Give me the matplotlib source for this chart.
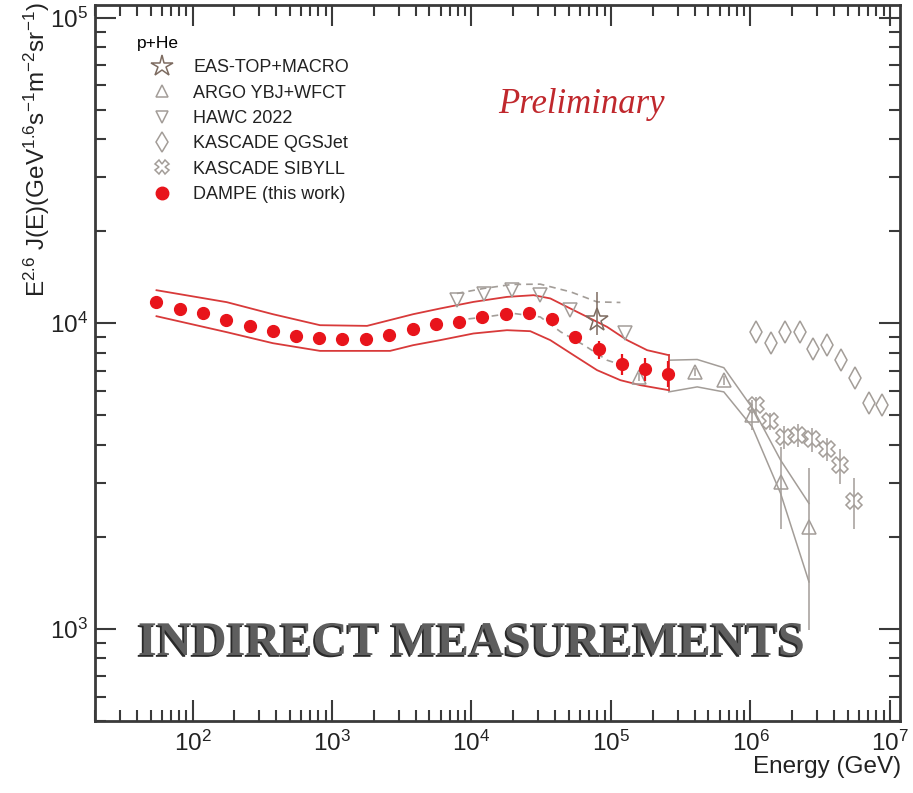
import matplotlib
matplotlib.use('Agg')
import matplotlib.pyplot as plt
import matplotlib.patheffects as pe
from matplotlib.lines import Line2D

plt.rcParams['font.family'] = ['Liberation Sans', 'DejaVu Sans']
plt.rcParams['mathtext.fontset'] = 'custom'
plt.rcParams['mathtext.rm'] = 'Liberation Sans'
plt.rcParams['mathtext.it'] = 'Liberation Sans:italic'
plt.rcParams['mathtext.bf'] = 'Liberation Sans:bold'

# ---------------- data ----------------
dampe_E = [55, 81, 119, 175, 257, 377, 555, 807, 1188, 1746, 2566, 3777, 5550,
           8160, 11940, 17660, 25830, 37950, 55500, 82200, 119600, 176700, 258300]
dampe_F = [11690, 11110, 10760, 10230, 9780, 9415, 9066, 8910, 8863, 8863, 9115, 9558,
           9902, 10114, 10462, 10726, 10807, 10283, 8979, 8203, 7340, 7070, 6844]
dampe_err = [80, 80, 80, 80, 80, 80, 80, 80, 80, 80, 80, 90, 100, 110, 130, 160,
             200, 280, 420, 560, 590, 620, 680]

dampe_band_up_E = [55.2, 176.3, 377.2, 820, 1783, 3815, 5962, 10330, 17960, 27870,
                   36730, 48400, 67350, 93760, 130500, 181600, 259600]
dampe_band_up_F = [12820, 11715, 10700, 9850, 9799, 10700, 11170, 11740, 12190, 12350,
                   12050, 11310, 10490, 9725, 8800, 8160, 7858]
dampe_band_lo_E = [55.2, 176.3, 377.2, 820, 2609, 3815, 5962, 10330, 17960, 26390,
                   36730, 53970, 79480, 116800, 162600, 259600]
dampe_band_lo_F = [10540, 9344, 8600, 8116, 8116, 8472, 8800, 9253, 9486, 9415,
                   8800, 7858, 7019, 6508, 6267, 6035]

hawc_E = [7856, 12200, 19500, 30770, 50510, 126900]
hawc_F = [11893, 12440, 12820, 12350, 11085, 9254]
hawc_up_E = [7856, 12200, 19500, 31130, 51440, 79480, 116800]
hawc_up_F = [12510, 12990, 13390, 13420, 12660, 11740, 11690]
hawc_lo_E = [7856, 12200, 19500, 31130, 43610, 64110, 93750, 126900]
hawc_lo_F = [10230, 10460, 10780, 10480, 9365, 8472, 7566, 7231]

eastop_E = [79400]
eastop_F = [10230]
eastop_err_lo = [1100]
eastop_err_hi = [2430]

argo_E = [158100, 403500, 644200, 1030000, 1645000, 2626000]
argo_F = [6672, 6929, 6508, 5000, 3023, 2154]
argo_err_lo = [200, 220, 230, 534, 895, 1165]
argo_err_hi = [200, 220, 230, 598, 914, 1198]
argo_up_E = [259600, 415000, 644200, 1057800, 1645000, 2626000]
argo_up_F = [7566, 7606, 7150, 5190, 3561, 2570]
argo_lo_E = [259600, 415000, 644200, 1030000, 1645000, 2626000]
argo_lo_F = [5958, 6187, 5958, 4576, 2771, 1423]

qgs_E = [1.088e6, 1.394e6, 1.766e6, 2.252e6, 2.805e6, 3.558e6, 4.435e6, 5.617e6, 7.079e6, 8.837e6]
qgs_F = [9366, 8582, 9366, 9324, 8263, 8472, 7566, 6592, 5460, 5390]

sib_E = [1.088e6, 1.372e6, 1.737e6, 2.186e6, 2.777e6, 3.518e6, 4.361e6, 5.525e6]
sib_F = [5390, 4775, 4243, 4298, 4171, 3869, 3429, 2615]
sib_err = [330, 290, 380, 365, 375, 330, 445, 500]

legend_labels = ['EAS-TOP+MACRO', 'ARGO YBJ+WFCT', 'HAWC 2022', 'KASCADE QGSJet',
                 'KASCADE SIBYLL', 'DAMPE (this work)']

# ---------------- style ----------------
RED = '#e8141b'
BAND_RED = '#d83a3a'
GRAY = '#a39d98'
STAR = '#7d6b60'
AX = '#3a3a3a'

W, H = 913, 793
fig = plt.figure(figsize=(W / 100, H / 100), dpi=100)
ax = fig.add_axes([95 / W, 1 - 720.7 / H, 805 / W, (720.7 - 5) / H])
ax.set_xscale('log')
ax.set_yscale('log')
ax.set_xlim(20, 1.18e7)
ax.set_ylim(500, 1.1e5)

# bands
ax.plot(dampe_band_up_E, dampe_band_up_F, color=BAND_RED, lw=1.3, zorder=3)
ax.plot(dampe_band_lo_E, dampe_band_lo_F, color=BAND_RED, lw=1.3, zorder=3)
ax.plot([dampe_band_up_E[-1], dampe_band_lo_E[-1]], [dampe_band_up_F[-1], dampe_band_lo_F[-1]],
        color=BAND_RED, lw=1.3, zorder=3)
ax.plot(hawc_up_E, hawc_up_F, color=GRAY, lw=1.2, ls=(0, (4, 3)), zorder=2)
ax.plot(hawc_lo_E, hawc_lo_F, color=GRAY, lw=1.2, ls=(0, (4, 3)), zorder=2)
ax.plot(argo_up_E, argo_up_F, color=GRAY, lw=1.1, zorder=2)
ax.plot(argo_lo_E, argo_lo_F, color=GRAY, lw=1.1, zorder=2)

# points
ax.plot(hawc_E, hawc_F, ls='none', marker='v', ms=10, mfc='none', mec=GRAY, mew=1.1, zorder=4)
ax.errorbar(argo_E, argo_F, yerr=[argo_err_lo, argo_err_hi], fmt='^', ms=10, mfc='none',
            mec=GRAY, mew=1.1, ecolor=GRAY, elinewidth=1.1, capsize=0, zorder=4)
ax.plot(qgs_E, qgs_F, ls='none', marker='d', ms=11, mfc='none', mec=GRAY, mew=1.1, zorder=4)
ax.errorbar(sib_E, sib_F, yerr=sib_err, fmt='X', ms=11, mfc='none', mec=GRAY, mew=1.1,
            ecolor=GRAY, elinewidth=1.1, capsize=0, zorder=4)
ax.errorbar(eastop_E, eastop_F, yerr=[eastop_err_lo, eastop_err_hi], fmt='*', ms=17,
            mfc='none', mec=STAR, mew=1.1, ecolor=STAR, elinewidth=1.1, capsize=0, zorder=5)
ax.errorbar(dampe_E, dampe_F, yerr=dampe_err, fmt='o', ms=8.5, color=RED, mec=RED,
            ecolor=RED, elinewidth=1.6, capsize=0, zorder=6)

# axes styling
for s in ax.spines.values():
    s.set_color(AX)
    s.set_linewidth(2)
ax.tick_params(which='both', direction='in', top=True, right=True, color=AX, width=1.5)
ax.tick_params(which='major', length=15)
ax.tick_params(which='minor', length=8)
ax.tick_params(axis='x', which='major', labelsize=17.5, pad=7, labelcolor='#222222')
ax.tick_params(axis='y', which='major', labelsize=17.5, pad=5, labelcolor='#222222')

# labels
fig.text(37 / W, 1 - 2 / H, r'E$^{2.6}$ J(E)(GeV$^{1.6}$s$^{-1}$m$^{-2}$sr$^{-1}$)',
         rotation=90, ha='center', va='top', fontsize=17.5, color='#222222')
fig.text(901 / W, 1 - 773 / H, 'Energy (GeV)', ha='right', va='baseline', fontsize=17.5,
         color='#222222')

fig.text(498 / W, 1 - 113 / H, 'Preliminary', family='Liberation Serif', style='italic',
         fontsize=25, color='#c0282d', ha='left', va='baseline')

t = fig.text(471.5 / W, 1 - 655 / H, 'INDIRECT MEASUREMENTS', family='Liberation Serif',
             weight='bold', fontsize=36, color='#5e5e5e', ha='center', va='baseline')
fig.canvas.draw()
w = t.get_window_extent().width
t.set_fontsize(36 * 667 / w)
t.set_path_effects([pe.withSimplePatchShadow(offset=(-1.3, -1.3), shadow_rgbFace='#111111',
                                             alpha=0.9)])

# legend
handles = [
    Line2D([], [], ls='none', marker='*', ms=16, mfc='none', mec=STAR, mew=1.1),
    Line2D([], [], ls='none', marker='^', ms=9, mfc='none', mec=GRAY, mew=1.1),
    Line2D([], [], ls='none', marker='v', ms=9, mfc='none', mec=GRAY, mew=1.1),
    Line2D([], [], ls='none', marker='d', ms=10, mfc='none', mec=GRAY, mew=1.1),
    Line2D([], [], ls='none', marker='X', ms=10, mfc='none', mec=GRAY, mew=1.1),
    Line2D([], [], ls='none', marker='o', ms=9, color=RED),
]
leg = ax.legend(handles, legend_labels, loc='upper left', bbox_to_anchor=(137 / W, 1 - 36 / H),
                bbox_transform=fig.transFigure, frameon=False, fontsize=13, title='p+He',
                title_fontsize=12.5, alignment='left', handlelength=2.8, handletextpad=0.32,
                labelspacing=0.46, borderpad=0, borderaxespad=0)
for txt in leg.get_texts():
    txt.set_color('#222222')

fig.savefig('out.png', dpi=100)
